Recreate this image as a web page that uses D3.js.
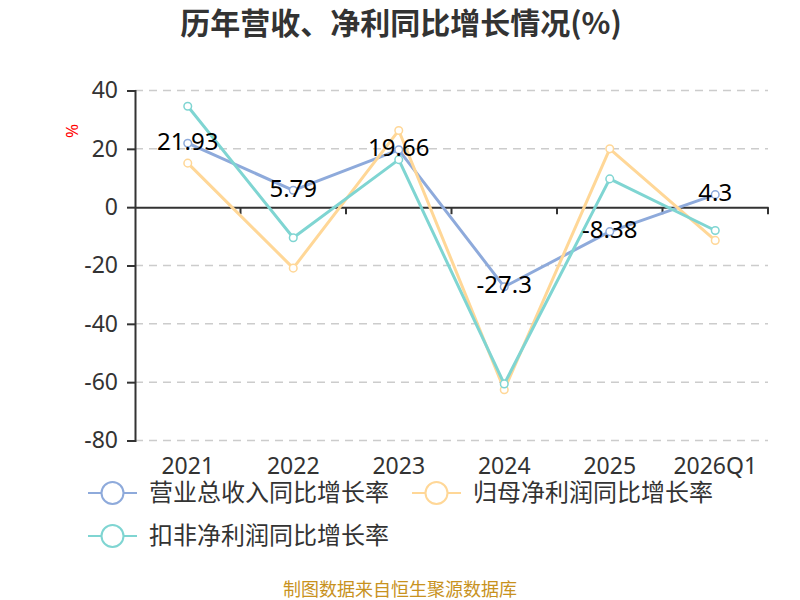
<!DOCTYPE html>
<html>
<head>
<meta charset="utf-8">
<script src="https://cdn.jsdelivr.net/npm/d3@7"></script>
<style>
  body { margin: 0; background: #fff; }
  text { font-family: "Noto Sans", "Noto Sans CJK SC", sans-serif; }
</style>
</head>
<body>
<script>
// ================================ data
var categories = ["2021", "2022", "2023", "2024", "2025", "2026Q1"];
var revenueGrowth = [21.93, 5.79, 19.66, -27.3, -8.38, 4.3];
var netProfitGrowth = [15.1, -20.9, 26.3, -62.6, 20.0, -11.4];
var deductedGrowth = [34.6, -10.5, 16.3, -60.6, 9.7, -8.0];
var seriesNames = ["营业总收入同比增长率", "归母净利润同比增长率", "扣非净利润同比增长率"];
var yTicks = [-80, -60, -40, -20, 0, 20, 40];

var colors = ["#8eaadb", "#ffd797", "#7fd5d2"];

// ================================ sizes
var svgWidth = 800;
var svgHeight = 600;
var chartMargin = { top: 90.5, right: 32, bottom: 159.5, left: 135 };
var chartWidth = svgWidth - chartMargin.left - chartMargin.right;
var chartHeight = svgHeight - chartMargin.top - chartMargin.bottom;

var svg = d3.select("body")
  .append("svg")
  .attr("width", svgWidth)
  .attr("height", svgHeight);

// title
svg.append("text")
  .attr("x", 401)
  .attr("y", 34)
  .attr("text-anchor", "middle")
  .attr("font-size", 30)
  .attr("font-weight", "bold")
  .attr("fill", "#333")
  .style("font-family", "'Noto Sans CJK SC', sans-serif")
  .text("历年营收、净利同比增长情况(%)");

// unit label
svg.append("text")
  .attr("transform", "translate(78, 131) rotate(-90)")
  .attr("text-anchor", "middle")
  .attr("font-size", 17)
  .attr("fill", "#ff0000")
  .text("%");

var chartGroup = svg.append("g")
  .attr("transform", `translate(${chartMargin.left}, ${chartMargin.top})`);

var xBandScale = d3.scaleBand()
  .domain(categories)
  .range([0, chartWidth]);

var yLinearScale = d3.scaleLinear()
  .domain([-80, 40])
  .range([chartHeight, 0]);

// grid lines
chartGroup.selectAll(".grid")
  .data(yTicks.filter(d => d !== 0))
  .enter()
  .append("line")
  .attr("x1", 0)
  .attr("x2", chartWidth)
  .attr("y1", d => yLinearScale(d))
  .attr("y2", d => yLinearScale(d))
  .attr("stroke", "#cccccc")
  .attr("stroke-width", 1.5)
  .attr("stroke-dasharray", "8,6");

// left axis
var leftAxis = d3.axisLeft(yLinearScale)
  .tickValues(yTicks)
  .tickSize(8)
  .tickPadding(9)
  .tickFormat(d => String(d));
var yAxisG = chartGroup.append("g").call(leftAxis);
yAxisG.select(".domain").attr("stroke", "#333").attr("stroke-width", 2);
yAxisG.selectAll(".tick line").attr("stroke", "#333").attr("stroke-width", 2);
yAxisG.selectAll("text")
  .attr("font-size", 23)
  .attr("fill", "#333")
  .style("font-family", "'Noto Sans', sans-serif");

// zero axis line with ticks at band boundaries
var zeroAxis = d3.axisBottom(xBandScale).tickSize(0).tickFormat("");
var zeroG = chartGroup.append("g")
  .attr("transform", `translate(0, ${yLinearScale(0)})`)
  .call(zeroAxis);
zeroG.select(".domain").attr("stroke", "#333").attr("stroke-width", 2);
zeroG.selectAll(".tick").remove();
var boundaries = categories.map(c => xBandScale(c)).slice(1).concat([chartWidth]);
zeroG.selectAll(".bound")
  .data(boundaries)
  .enter()
  .append("line")
  .attr("x1", d => d)
  .attr("x2", d => d)
  .attr("y1", 0)
  .attr("y2", 7)
  .attr("stroke", "#333")
  .attr("stroke-width", 2);

// category labels at the bottom
chartGroup.selectAll(".xlabel")
  .data(categories)
  .enter()
  .append("text")
  .attr("x", d => xBandScale(d) + xBandScale.bandwidth() / 2)
  .attr("y", chartHeight + 33)
  .attr("text-anchor", "middle")
  .attr("font-size", 23)
  .attr("fill", "#333")
  .text(d => d);

// lines
var allSeries = [revenueGrowth, netProfitGrowth, deductedGrowth];
var line = d3.line()
  .x((d, i) => xBandScale(categories[i]) + xBandScale.bandwidth() / 2)
  .y(d => yLinearScale(d));

allSeries.forEach(function (values, s) {
  chartGroup.append("path")
    .datum(values)
    .attr("fill", "none")
    .attr("stroke", colors[s])
    .attr("stroke-width", 3)
    .attr("stroke-linejoin", "round")
    .attr("d", line);

  chartGroup.selectAll(".pt" + s)
    .data(values)
    .enter()
    .append("circle")
    .attr("cx", (d, i) => xBandScale(categories[i]) + xBandScale.bandwidth() / 2)
    .attr("cy", d => yLinearScale(d))
    .attr("r", 3.8)
    .attr("fill", "#fff")
    .attr("stroke", colors[s])
    .attr("stroke-width", 1.5);
});

// data labels for revenue
chartGroup.selectAll(".vlabel")
  .data(revenueGrowth)
  .enter()
  .append("text")
  .attr("x", (d, i) => xBandScale(categories[i]) + xBandScale.bandwidth() / 2)
  .attr("y", d => yLinearScale(d) + 6.5)
  .attr("text-anchor", "middle")
  .attr("font-size", 24)
  .attr("fill", "#000")
  .text(d => d);

// legend
var legendPos = [[88, 493], [412, 493], [88, 536]];
seriesNames.forEach(function (name, i) {
  var g = svg.append("g")
    .attr("transform", `translate(${legendPos[i][0]}, ${legendPos[i][1]})`);
  g.append("line")
    .attr("x1", 0).attr("x2", 49)
    .attr("y1", 0).attr("y2", 0)
    .attr("stroke", colors[i])
    .attr("stroke-width", 2);
  g.append("circle")
    .attr("cx", 24.5).attr("cy", 0).attr("r", 11)
    .attr("fill", "#fff")
    .attr("stroke", colors[i])
    .attr("stroke-width", 2);
  g.append("text")
    .attr("x", 61)
    .attr("y", 8)
    .attr("font-size", 24)
    .attr("fill", "#333")
    .style("font-family", "'Noto Sans CJK SC', sans-serif")
    .text(name);
});

// footer
svg.append("text")
  .attr("x", 400)
  .attr("y", 596)
  .attr("text-anchor", "middle")
  .attr("font-size", 18)
  .attr("fill", "#c8921e")
  .style("font-family", "'Noto Sans CJK SC', sans-serif")
  .text("制图数据来自恒生聚源数据库");
</script>
</body>
</html>
